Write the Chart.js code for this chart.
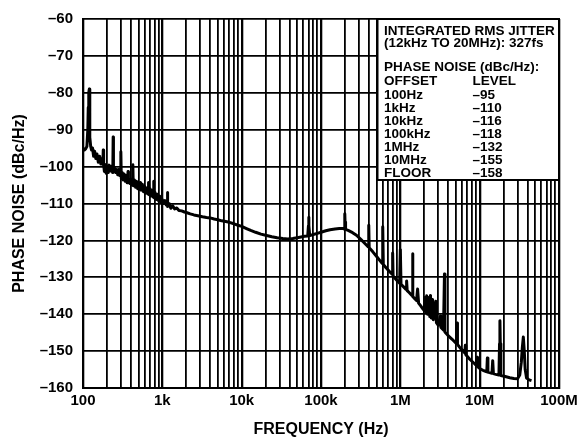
<!DOCTYPE html>
<html>
<head>
<meta charset="utf-8">
<script src="https://cdn.jsdelivr.net/npm/chart.js@4.4.1/dist/chart.umd.min.js"></script>
<style>
    html, body { margin: 0; padding: 0; background: #fff; }
</style>
</head>
<body>
<canvas id="noiseChart" width="585" height="442"></canvas>
<script>
const freqHz = [
    100, 104, 108, 112, 115, 116.5, 117.5, 119, 120, 121, 122.5, 125, 128, 132, 136, 140, 145, 150, 156, 162,
    168, 174, 178, 180, 182, 186, 190, 196, 202, 208, 214, 220, 228, 236, 238, 240, 242, 250, 258, 266,
    274, 282, 290, 296, 300, 304, 312, 320, 330, 340, 350, 360, 366, 370, 374, 384, 394, 404, 414, 420,
    425, 430, 445, 460, 475, 490, 505, 520, 530, 540, 560, 580, 600, 620, 640, 660, 670, 680, 700, 720,
    745, 765, 775, 785, 810, 840, 870, 900, 930, 960, 1000, 1040, 1080, 1120, 1150, 1160, 1170, 1220, 1280, 1350,
    1430, 1520, 1620, 1750, 1900, 2050, 2250, 2500, 2800, 3200, 3600, 4000, 4500, 5000, 5600, 6300, 7000, 8000, 9000, 10000,
    11500, 13000, 15000, 17500, 20000, 24000, 28000, 33000, 38000, 44000, 50000, 56000, 62000, 68000, 69500, 70000, 70500, 72000, 80000, 90000,
    100000, 115000, 130000, 150000, 170000, 190000, 197000, 199000, 200000, 201000, 204000, 220000, 250000, 280000, 320000, 360000, 395000, 400000, 405000, 450000,
    500000, 550000, 590000, 600000, 610000, 660000, 720000, 760000, 790000, 800000, 810000, 860000, 920000, 980000, 1000000, 1020000, 1100000, 1180000, 1200000, 1220000,
    1300000, 1380000, 1420000, 1430000, 1440000, 1520000, 1600000, 1650000, 1700000, 1800000, 1900000, 2000000, 2050000, 2100000, 2150000, 2200000, 2300000, 2350000, 2400000, 2450000,
    2550000, 2600000, 2800000, 2850000, 3000000, 3200000, 3250000, 3500000, 3600000, 3650000, 4000000, 4500000, 5000000, 5150000, 5200000, 5250000, 5700000, 6200000, 6500000, 6600000,
    6700000, 7500000, 8500000, 9200000, 9300000, 9400000, 10000000, 11000000, 12300000, 12500000, 12700000, 14300000, 14600000, 14900000, 16000000, 17500000, 17800000, 18000000, 18200000, 18500000,
    21000000, 24000000, 27000000, 30000000, 32000000, 33500000, 34500000, 35500000, 36500000, 37500000, 39000000, 42000000, 45000000
];
const levelDbc = [
    -95.0, -95.5, -95.2, -94.5, -90, -84, -85, -80, -79, -81, -92, -94.5, -95.5, -95.0, -97.2, -95.8, -97.8, -96.6, -98.8, -97.2,
    -99.3, -97.8, -99.4, -95.5, -99.4, -101.3, -99.4, -101.8, -99.8, -101.6, -99.6, -101.2, -99.9, -101.6, -100, -92, -101.2, -100.4, -101.6, -100.8,
    -102.2, -100.8, -102.4, -101.2, -96, -103.2, -101.6, -103.6, -102, -104, -102.4, -104.4, -102.6, -101.3, -104.4, -103.6, -104.6, -103.4, -105, -103.8,
    -99.5, -105.2, -103.6, -105.6, -104, -106, -104.4, -106.2, -104.3, -106.4, -104.8, -106.8, -105.4, -107.2, -105.8, -107.4, -104.3, -107.6, -106, -108,
    -106.4, -108.2, -104, -108.4, -107, -108.9, -107.5, -109.3, -108, -109.7, -109, -110, -109.2, -110.4, -109.6, -107, -110.8, -110, -111.3, -110.6,
    -111.5, -111.2, -111.9, -112, -112.3, -112.5, -112.8, -113.1, -113.3, -113.6, -113.8, -113.9, -114.2, -114.4, -114.7, -114.9, -115.1, -115.5, -115.9, -116.2,
    -116.8, -117.3, -117.8, -118.3, -118.6, -119, -119.3, -119.5, -119.6, -119.5, -119.3, -119.1, -118.9, -118.8, -116, -113.7, -116, -118.7, -118.4, -118.1,
    -117.8, -117.4, -117.1, -116.9, -116.8, -116.8, -116.9, -115, -112.8, -115, -117, -117.3, -117.9, -118.6, -119.8, -120.9, -121.8, -115.9, -122.0, -123.1,
    -124.3, -125.4, -126.2, -116.3, -126.5, -127.4, -128.3, -128.8, -129.2, -123.4, -129.6, -130.3, -131, -131.6, -122.5, -131.9, -132.6, -133.3, -131.0, -133.6,
    -134.2, -134.8, -135.0, -123.6, -135.2, -135.8, -136.3, -133.2, -137, -137.7, -138.4, -139, -135.5, -139.6, -135, -140, -135.5, -140.6, -134.9, -141,
    -136, -141.5, -136.5, -142.3, -143, -140.5, -143.6, -144.3, -129.1, -144.8, -145.8, -146.8, -147.8, -148, -142.4, -148.2, -149.2, -150, -150.5, -148.4,
    -151, -152.2, -153.3, -154, -151.7, -154.2, -154.7, -155.2, -155.6, -151.9, -155.7, -156, -152.6, -156.1, -156.3, -156.5, -148, -141.8, -148, -156.6,
    -156.9, -157.2, -157.4, -157.5, -156.5, -153, -149, -146.2, -150, -155, -157.3, -157.8, -158
];

const xGridValues = [];
for (let d = 100; d < 1e8; d *= 10) {
    for (let m = 1; m < 10; m++) xGridValues.push(d * m);
}
xGridValues.push(1e8);
const xDecades = [100, 1e3, 1e4, 1e5, 1e6, 1e7, 1e8];
const xLabels = ['100', '1k', '10k', '100k', '1M', '10M', '100M'];
const yTickValues = [-160, -150, -140, -130, -120, -110, -100, -90, -80, -70, -60];

// text inside the boxed note
const jitterText = ['INTEGRATED RMS JITTER', '(12kHz TO 20MHz): 327fs'];
const offsetNames = ['100Hz', '1kHz', '10kHz', '100kHz', '1MHz', '10MHz', 'FLOOR'];
const offsetLevels = ['–95', '–110', '–116', '–118', '–132', '–155', '–158'];

const FONT = '"Liberation Sans", Arial, Helvetica, sans-serif';

const noteBox = {
    id: 'noteBox',
    afterDatasetsDraw(chart) {
        const { ctx, chartArea } = chart;
        const left = chartArea.left + 294.5;
        const top = chartArea.top;
        const right = chartArea.right;
        const bottom = chartArea.top + 161;
        ctx.save();
        ctx.fillStyle = '#fff';
        ctx.fillRect(left, top, right - left, bottom - top);
        ctx.strokeStyle = '#000';
        ctx.lineWidth = 2;
        ctx.strokeRect(left, top, right - left, bottom - top);

        ctx.fillStyle = '#000';
        ctx.font = 'bold 13.5px ' + FONT;
        ctx.textBaseline = 'middle';
        ctx.textAlign = 'left';
        const tx = left + 6.5;
        const tx2 = left + 95;
        ctx.fillText(jitterText[0], tx, top + 12);
        ctx.fillText(jitterText[1], tx, top + 24.5);
        ctx.fillText('PHASE NOISE (dBc/Hz):', tx, top + 48);
        ctx.fillText('OFFSET', tx, top + 62);
        ctx.fillText('LEVEL', tx2, top + 62);
        offsetNames.forEach((name, i) => {
            const y = top + 76 + i * 13;
            ctx.fillText(name, tx, y);
            ctx.fillText(offsetLevels[i], tx2, y);
        });
        ctx.restore();
    }
};

window.onload = function () {
    const ctx = document.getElementById('noiseChart');

    new Chart(ctx, {
        type: 'line',
        data: {
            datasets: [{
                data: freqHz.map((f, i) => ({ x: f, y: levelDbc[i] })),
                borderColor: '#000',
                borderWidth: 3,
                pointRadius: 0,
                tension: 0,
                borderJoinStyle: 'round',
            }],
        },
        options: {
            responsive: false,
            animation: false,
            events: [],
            layout: { padding: { top: 11, right: 26, left: 0, bottom: 0 } },
            plugins: { legend: { display: false }, tooltip: { enabled: false } },
            scales: {
                x: {
                    type: 'logarithmic',
                    min: 100,
                    max: 1e8,
                    afterBuildTicks: (scale) => {
                        scale.ticks = xGridValues.map(v => ({ value: v }));
                    },
                    afterFit: (scale) => { scale.height = 54; },
                    ticks: {
                        autoSkip: false,
                        maxRotation: 0,
                        padding: 4,
                        color: '#000',
                        font: { family: FONT, size: 15, weight: 'bold' },
                        callback: (v) => {
                            const k = xDecades.indexOf(v);
                            return k >= 0 ? xLabels[k] : '';
                        },
                    },
                    grid: {
                        color: '#000',
                        lineWidth: (c) => (xDecades.includes(c.tick && c.tick.value) ? 2.3 : 1.8),
                        drawTicks: false,
                    },
                    border: { color: '#000', width: 2 },
                    title: {
                        display: true,
                        text: 'FREQUENCY (Hz)',
                        color: '#000',
                        font: { family: FONT, size: 16, weight: 'bold' },
                        padding: { top: 0, bottom: 3 },
                    },
                },
                y: {
                    min: -160,
                    max: -60,
                    afterBuildTicks: (scale) => {
                        scale.ticks = yTickValues.map(v => ({ value: v }));
                    },
                    afterFit: (scale) => { scale.width = 83; },
                    ticks: {
                        padding: 10,
                        color: '#000',
                        font: { family: FONT, size: 15, weight: 'bold' },
                        callback: (v) => '–' + Math.abs(v),
                    },
                    grid: { color: '#000', lineWidth: 1.8, drawTicks: false },
                    border: { color: '#000', width: 2 },
                    title: {
                        display: true,
                        text: 'PHASE NOISE (dBc/Hz)',
                        color: '#000',
                        font: { family: FONT, size: 16, weight: 'bold' },
                        padding: { top: 10, bottom: 0 },
                    },
                },
            },
        },
        plugins: [noteBox],
    });
};
</script>
</body>
</html>
